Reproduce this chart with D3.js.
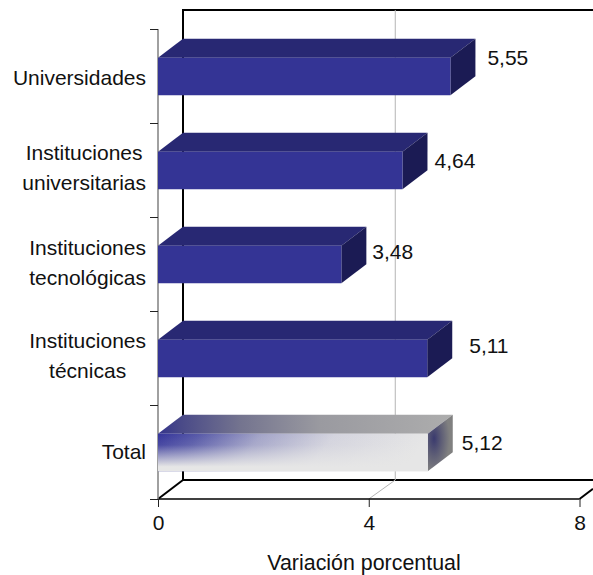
<!DOCTYPE html>
<html><head><meta charset="utf-8">
<script src="https://cdn.jsdelivr.net/npm/d3@7/dist/d3.min.js"></script>
<style>html,body{margin:0;background:#fff}svg{display:block}text{font-family:"Liberation Sans",Arial,sans-serif;fill:#111}</style>
</head><body><svg id="c" width="593" height="575"></svg>
<script>
const categories = [["Universidades"],["Instituciones","universitarias"],["Instituciones","tecnológicas"],["Instituciones","técnicas"],["Total"]];
const values = [5.55,4.64,3.48,5.11,5.12];
const valueLabels = ["5,55","4,64","3,48","5,11","5,12"];
const xTicks = [0,4,8];
const axisTitle = "Variación porcentual";
const labelNudgeX = [12,7,6,17,9];
const labelNudgeY = [-19,-10,-13,-13,-10];
const catNudgeY = [1,-3,-2,-2.5,-1];

const svg = d3.select("#c"), FS = 21;
const dx = 25, dy = -19, L = 158, R = 579.5, T = 29, B = 499;
const x = d3.scaleLinear().domain([0,8]).range([L,R]);
const ids = categories.map((d,i)=>i);
const y = d3.scaleBand().domain(ids).range([T,B]);
const barH = 37.5;
const barY = i => y(i)+ (y.bandwidth()-barH)/2 + 0.5;

const defs = svg.append("defs");
function lin(id,a,stops){const g=defs.append("linearGradient").attr("id",id).attr("x1",a[0]).attr("y1",a[1]).attr("x2",a[2]).attr("y2",a[3]);
 stops.forEach(s=>g.append("stop").attr("offset",s[0]).attr("stop-color",s[1]).attr("stop-opacity",s[2]===undefined?1:s[2]));}
lin("fh",[0,0,1,0.1],[[0,"#34349a"],[0.15,"#5759a8"],[0.38,"#a3a4c8"],[0.65,"#d4d4de"],[1,"#e6e6e6"]]);
lin("fv",[0,0,0,1],[[0,"#e6e6e6",0],[0.3,"#e6e6e6",0.08],[0.88,"#e6e6e6",1],[1,"#e6e6e6",1]]);
lin("th",[0,0,1,0],[[0,"#34348c"],[0.08,"#4a4a88"],[0.28,"#74748f"],[0.55,"#9a9aa0"],[1,"#adadad"]]);
const rg = defs.append("radialGradient").attr("id","sd").attr("cx",0.25).attr("cy",0.42).attr("r",0.62);
[[0,"#3a3a6e"],[0.5,"#5f5f76"],[1,"#808080"]].forEach(s=>rg.append("stop").attr("offset",s[0]).attr("stop-color",s[1]));

// walls and gridlines
const wall = svg.append("g").attr("fill","none");
wall.append("path").attr("d",`M${L+dx},${B+dy}V${T+dy}H593`).attr("stroke","#000").attr("stroke-width",2);
wall.append("path").attr("d",`M${L+dx},${B+dy}H593`).attr("stroke","#000").attr("stroke-width",2);
wall.append("path").attr("d",`M${x(4)},${B}l${dx+1.5},${dy}V${T+dy}`).attr("stroke","#b4b4b4").attr("stroke-width",1);
wall.append("path").attr("d",`M${L},${B}l${dx},${dy}`).attr("stroke","#000").attr("stroke-width",2);
wall.append("path").attr("d",`M${R},${B}L593,${B+dy*13.5/dx}`).attr("stroke","#000").attr("stroke-width",2);
wall.append("path").attr("d",`M${L},${B}H${R}`).attr("stroke","#000").attr("stroke-width",1.6);

// y axis
const yAxis = d3.axisLeft(d3.scaleLinear().domain([0,5]).range([T,B])).tickValues(d3.range(6)).tickSize(8).tickFormat("");
const ga = svg.append("g").attr("transform",`translate(${L},0)`).call(yAxis);
ga.select(".domain").attr("stroke","#808080").attr("stroke-width",1.5).attr("d",`M0,${T}V${B}`);
ga.selectAll("line").attr("stroke","#222");

// bars
const bars = svg.append("g").selectAll("g").data(ids).join("g");
const isT = i => i===4;
bars.append("path").attr("d",i=>`M${L},${barY(i)}l${dx},${dy}H${x(values[i])+dx}l${-dx},${-dy}Z`)
 .attr("fill",i=>isT(i)?"url(#th)":"#282873");
bars.append("path").attr("d",i=>`M${x(values[i])},${barY(i)}l${dx},${dy}v${barH}l${-dx},${-dy}Z`)
 .attr("fill",i=>isT(i)?"url(#sd)":"#1b1b54");
bars.append("rect").attr("x",L).attr("y",barY).attr("width",i=>x(values[i])-L).attr("height",barH)
 .attr("fill",i=>isT(i)?"url(#fh)":"#343495");
bars.filter(isT).append("rect").attr("x",L).attr("y",barY).attr("width",i=>x(values[i])-L).attr("height",barH).attr("fill","url(#fv)");

// value labels
svg.append("g").selectAll("text").data(ids).join("text")
 .attr("x",i=>x(values[i])+dx+labelNudgeX[i]).attr("y",i=>barY(i)+barH/2+labelNudgeY[i]+7.5)
 .attr("font-size",FS).text(i=>valueLabels[i]);

// category labels
const catG = svg.append("g").selectAll("g").data(ids).join("g");
catG.each(function(i){
 const g=d3.select(this), lines=categories[i], lh=30;
 const cy=y(i)+y.bandwidth()/2+catNudgeY[i];
 const ts=g.selectAll("text").data(lines).join("text").attr("font-size",FS).attr("text-anchor","middle")
  .attr("y",(d,k)=>cy+(k-(lines.length-1)/2)*lh+7.5).text(d=>d);
 const w=d3.max(ts.nodes(),n=>n.getComputedTextLength());
 ts.attr("x",146-w/2);
});

// x axis
const xa = svg.append("g").attr("transform",`translate(0,${B})`).call(d3.axisBottom(x).tickValues(xTicks).tickSize(8).tickPadding(8).tickFormat(d=>String(d)));
xa.select(".domain").remove();
xa.selectAll("line").attr("stroke","#222");
xa.selectAll("text").attr("font-size",FS).attr("font-family",'"Liberation Sans",Arial,sans-serif');
svg.append("text").attr("x",364).attr("y",570).attr("text-anchor","middle").attr("font-size",21.4).text(axisTitle);
</script></body></html>
